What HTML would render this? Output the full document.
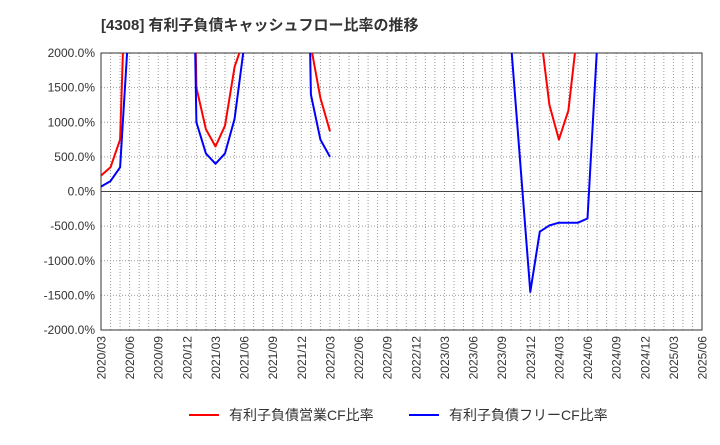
<!DOCTYPE html>
<html><head><meta charset="utf-8"><style>
body{margin:0;background:#fff;width:720px;height:440px;overflow:hidden}
svg{font-family:"Liberation Sans","Noto Sans CJK JP",sans-serif}
</style></head><body>
<svg id="c" width="720" height="440">
<text x="101" y="30" font-size="15" font-weight="bold" fill="#333">[4308]  有利子負債キャッシュフロー比率の推移</text>
<defs><clipPath id="clip"><rect x="101" y="53" width="601" height="277"/></clipPath></defs>
<g id="grid"></g><g id="axes"></g><g id="series" clip-path="url(#clip)"></g>
<g>
<line x1="189" y1="415" x2="219" y2="415" stroke="#f00" stroke-width="2"/>
<text x="229" y="420" font-size="14" fill="#333">有利子負債営業CF比率</text>
<line x1="409" y1="415" x2="439" y2="415" stroke="#00f" stroke-width="2"/>
<text x="449" y="420" font-size="14" fill="#333">有利子負債フリーCF比率</text>
</g>
</svg>
<script>
// monthly, starting 2020/03 (index 0)
const startMonthIndex = 0;
const operatingCF = {0:230,1:350,2:750,3:5000,9:9000,10:1500,11:900,12:650,13:950,14:1800,15:2200,21:9000,22:2100,23:1350,24:870,46:2380,47:1250,48:750,49:1170,50:2390};
const freeCF = {0:70,1:150,2:350,3:2600,9:9000,10:1000,11:550,12:400,13:550,14:1050,15:2100,21:9000,22:1400,23:750,24:500,42:9000,43:2100,44:330,45:-1450,46:-580,47:-490,48:-450,49:-450,50:-450,51:-390,52:2100};
const yTicks = [2000,1500,1000,500,0,-500,-1000,-1500,-2000];
const xTickLabels = ["2020/03","2020/06","2020/09","2020/12","2021/03","2021/06","2021/09","2021/12","2022/03","2022/06","2022/09","2022/12","2023/03","2023/06","2023/09","2023/12","2024/03","2024/06","2024/09","2024/12","2025/03","2025/06"];
const NS="http://www.w3.org/2000/svg";
const X0=101,X1=702,Y0=53,Y1=330,NM=63;
const xs=m=>X0+(X1-X0)*m/NM;
const ys=v=>Y0+(Y1-Y0)*(2000-v)/4000;
function mk(t,a,p){const e=document.createElementNS(NS,t);for(const k in a)e.setAttribute(k,a[k]);p.appendChild(e);return e;}
const grid=document.getElementById('grid'),axes=document.getElementById('axes'),ser=document.getElementById('series');
for(let m=1;m<NM;m++){const l=mk('line',{x1:xs(m),x2:xs(m),y1:Y0,y2:Y1,stroke:'#999','stroke-dasharray':'1,2','stroke-width':1},grid);

}
yTicks.forEach(v=>{const l=mk('line',{x1:X0,x2:X1,y1:ys(v),y2:ys(v),stroke:v===0?'#444':'#999','stroke-dasharray':v===0?'':'1,2','stroke-width':1},grid);


const t=mk('text',{x:X0-6,y:ys(v)+4,'text-anchor':'end','font-size':12,fill:'#333'},axes);t.textContent=v.toFixed(1)+'%';

});
mk('rect',{x:X0,y:Y0,width:X1-X0,height:Y1-Y0,fill:'none',stroke:'#333'},axes);
xTickLabels.forEach((s,i)=>{const x=xs(i*3);const t=mk('text',{x:0,y:0,transform:`translate(${x+4.5},${Y1+6}) rotate(-90)`,'text-anchor':'end','font-size':12,fill:'#333'},axes);t.textContent=s;

});
function draw(data,color,name){let d='',prev=false;for(let m=0;m<=NM;m++){if(data[m]===undefined){prev=false;continue;}
d+=(prev?'L':'M')+xs(m).toFixed(1)+','+ys(data[m]).toFixed(1);prev=true;}
const p=mk('path',{d:d,fill:'none',stroke:color,'stroke-width':2,'stroke-linejoin':'round'},ser);

}
draw(operatingCF,'#f00','operating-cf-line');
draw(freeCF,'#00f','free-cf-line');
</script>
</body></html>
